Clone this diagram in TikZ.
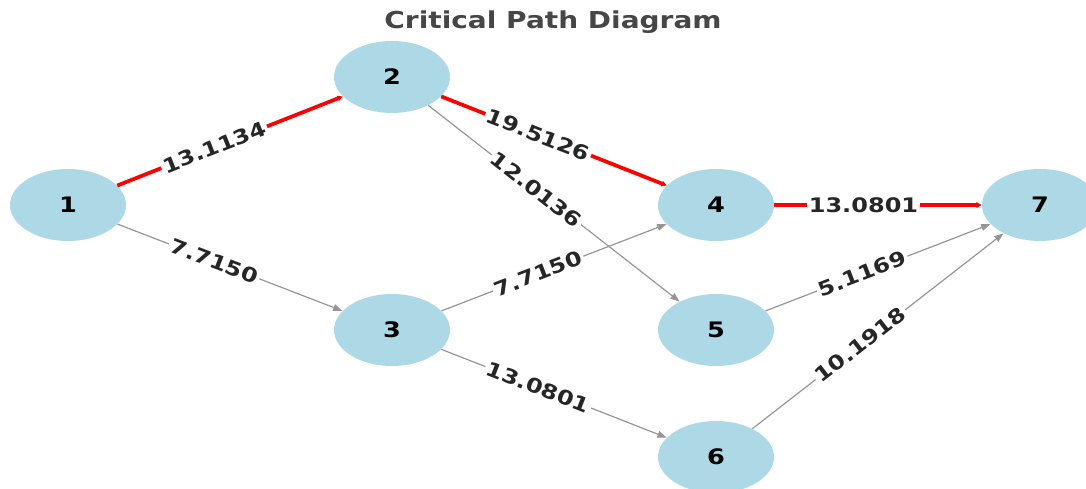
\documentclass[tikz,border=0pt]{standalone}
\usepackage{fontspec}
\newfontfamily\lblfont{DejaVu Sans}[FakeStretch=1.2]
\definecolor{nodeblue}{RGB}{173,216,230}
\definecolor{edgegray}{RGB}{150,150,150}
\definecolor{titlegray}{RGB}{70,70,70}
\usetikzlibrary{arrows.meta,shapes.geometric}
\tikzstyle{vertex}=[ellipse,fill=nodeblue,minimum width=87pt,minimum height=54pt,inner sep=0pt,font=\lblfont\bfseries\fontsize{16}{16}\selectfont]
\tikzstyle{edge}=[draw,edgegray,line width=0.9pt,-{Triangle[length=7pt,width=5pt]}]
\tikzstyle{critical}=[draw,red,line width=2.8pt,-{Triangle[length=4pt,width=4pt]}]
\tikzstyle{weight}=[fill=white,sloped,pos=0.43,inner sep=1.5pt,text=black!85,font=\lblfont\bfseries\fontsize{15}{15}\selectfont]

\begin{document}
\begin{tikzpicture}[x=0.75pt,y=-0.75pt]
                    \path [use as bounding box] (0,0) rectangle (1086,489);

                    \node[font=\lblfont\bfseries\fontsize{17.5}{17.5}\selectfont,text=titlegray] (title) at (553,22) {Critical Path Diagram};

                    \node[vertex] (1) at (68,205) {1};
                    \node[vertex] (2) at (392,77) {2};
                    \node[vertex] (3) at (392,330) {3};
                    \node[vertex] (4) at (716,205) {4};
                    \node[vertex] (5) at (716,330) {5};
                    \node[vertex] (6) at (716,457) {6};
                    \node[vertex] (7) at (1040,205) {7};

                    \path[edge] (1) -- (3) node[weight] {7.7150};
                    \path[edge] (2) -- (5) node[weight] {12.0136};
                    \path[edge] (3) -- (4) node[weight] {7.7150};
                    \path[edge] (3) -- (6) node[weight] {13.0801};
                    \path[edge] (5) -- (7) node[weight] {5.1169};
                    \path[edge] (6) -- (7) node[weight] {10.1918};

                    \path[critical] (1) -- (2) node[weight] {13.1134};
                    \path[critical] (2) -- (4) node[weight] {19.5126};
                    \path[critical] (4) -- (7) node[weight] {13.0801};
                \end{tikzpicture}
\end{document}
